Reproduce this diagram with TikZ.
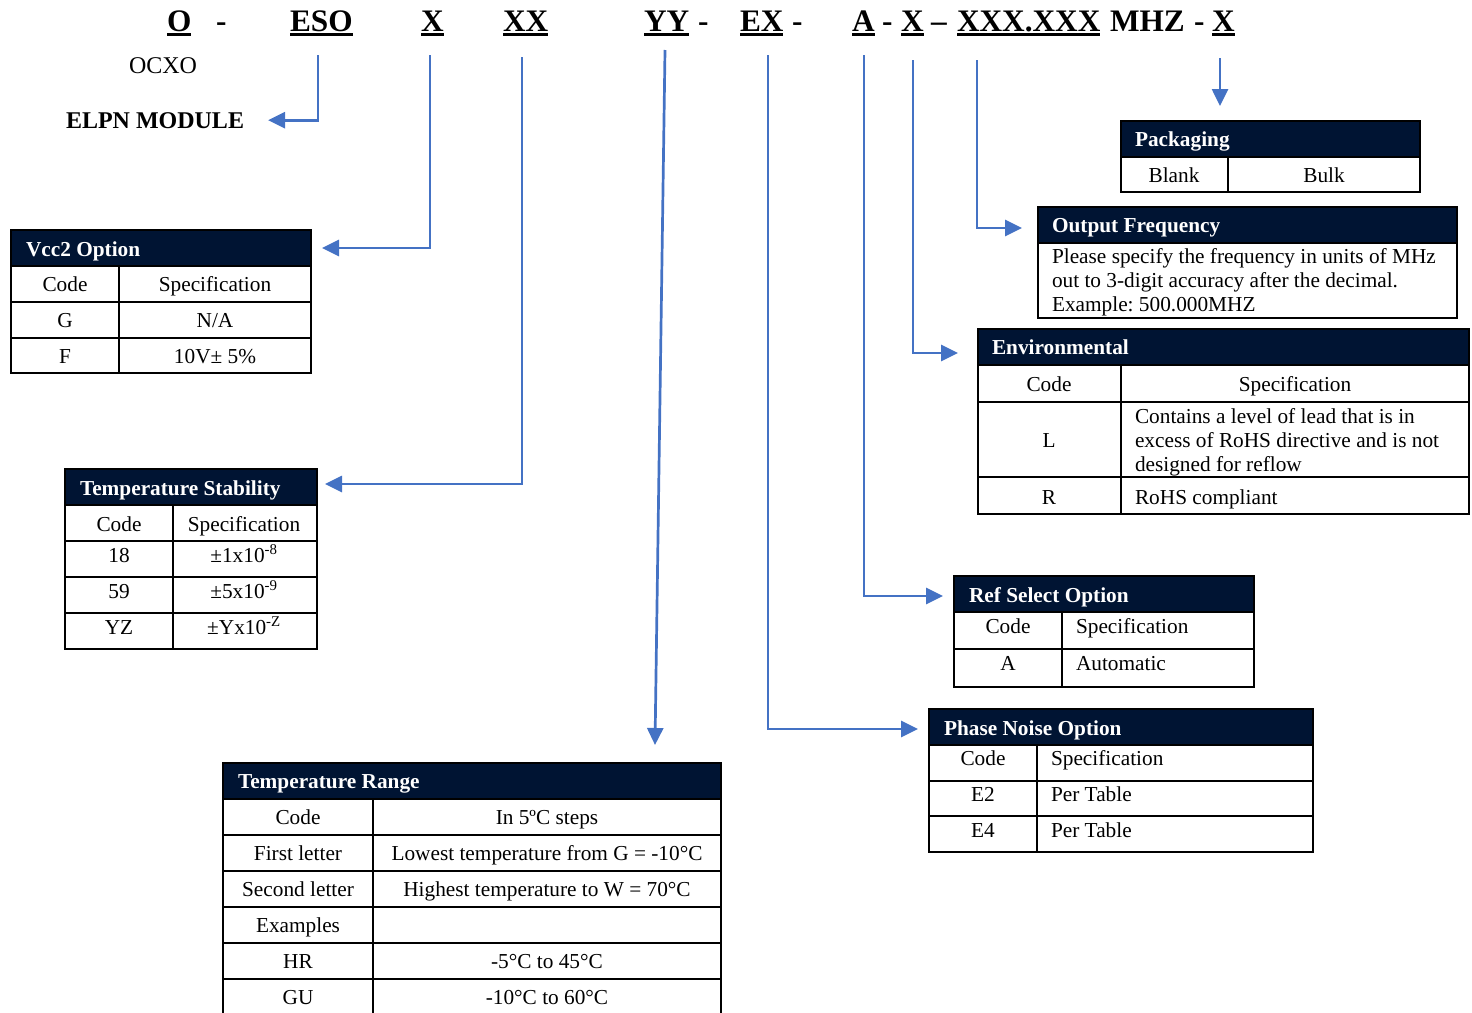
\documentclass[tikz,border=0pt]{standalone}
\usepackage{fontspec}
\setmainfont{Liberation Serif}
\usetikzlibrary{arrows.meta}
\definecolor{navy}{HTML}{001433}
\definecolor{conblue}{HTML}{4472C4}
\frenchspacing
\begin{document}
\begin{tikzpicture}[x=1pt,y=-1pt,
 every node/.style={inner sep=0pt, outer sep=0pt},
 body/.style={font=\fontsize{21.3}{25}\selectfont, anchor=base, text=black},
 bodyl/.style={body, anchor=base west},
 title/.style={font=\fontsize{21.3}{25}\selectfont\bfseries, text=white, anchor=base west},
 code/.style={font=\fontsize{31.3}{36}\selectfont\bfseries, anchor=base west},
 hdr/.style={draw=black, fill=navy, line width=2pt, anchor=north west, minimum height=36pt},
 grid/.style={draw=black, line width=2pt},
 conn/.style={draw=conblue, line width=2.7pt, -{Triangle[length=17pt,width=16pt]}},
 uline/.style={line width=3pt},
]
\useasboundingbox (0,0) rectangle (1472,1012);

% ---------- top code line ----------
\node[code] (pO)   at (167,31) {O};
\node[code] (d1)   at (216,31) {-};
\node[code] (pESO) at (290,31) {ESO};
\node[code] (pX1)  at (421,31) {X};
\node[code] (pXX)  at (503,31) {XX};
\node[code] (pYY)  at (644,31) {YY};
\node[code] (d2)   at (698,31) {-};
\node[code] (pEX)  at (740,31) {EX};
\node[code] (d3)   at (792,31) {-};
\node[code] (pA)   at (852,31) {A};
\node[code] (d4)   at (882,31) {-};
\node[code] (pX2)  at (901,31) {X};
\node[code] (d5)   at (931,31) {–};
\node[code] (pF)   at (957,31) {XXX.XXX};
\node[code] (pM)   at (1110,31) {MHZ};
\node[code] (d6)   at (1194,31) {-};
\node[code] (pX3)  at (1212,31) {X};
\foreach \n in {pO,pESO,pX1,pXX,pYY,pEX,pA,pX2,pF,pX3}
  \draw[uline] ([yshift=-3.5pt]\n.base west) -- ([yshift=-3.5pt]\n.base east);

\node[font=\fontsize{24}{28}\selectfont, anchor=base west] (ocxo) at (129,73) {OCXO};
\node[font=\fontsize{24}{28}\selectfont\bfseries, anchor=base west] (elpn) at (66,128) {ELPN MODULE};

% ---------- Vcc2 Option ----------
\node[hdr, minimum width=300pt] (vcc) at (11,230) {};
\node[title] (vcct) at (26,256) {Vcc2 Option};
\draw[grid] (11,266) rectangle (311,373) (11,302) -- (311,302) (11,338) -- (311,338) (119,266) -- (119,373);
\node[body] (v1) at (65,291) {Code};
\node[body] (v2) at (215,291) {Specification};
\node[body] (v3) at (65,327) {G};
\node[body] (v4) at (215,327) {N/A};
\node[body] (v5) at (65,363) {F};
\node[body] (v6) at (215,363) {10V± 5\%};

% ---------- Temperature Stability ----------
\node[hdr, minimum width=252pt] (tstab) at (65,469) {};
\node[title] (tstabt) at (80,495) {Temperature Stability};
\draw[grid] (65,505) rectangle (317,649) (65,541) -- (317,541) (65,577) -- (317,577) (65,613) -- (317,613) (173,505) -- (173,649);
\node[body] (s1c) at (119,531) {Code};
\node[body] (s1s) at (244,531) {Specification};
\node[body] (s2c) at (119,562) {18};
\node[body] (s2s) at (244,562) {±1x10\textsuperscript{-8}};
\node[body] (s3c) at (119,598) {59};
\node[body] (s3s) at (244,598) {±5x10\textsuperscript{-9}};
\node[body] (s4c) at (119,634) {YZ};
\node[body] (s4s) at (244,634) {±Yx10\textsuperscript{-Z}};

% ---------- Packaging ----------
\node[hdr, minimum width=299pt] (pack) at (1121,121) {};
\node[title] (packt) at (1135,146) {Packaging};
\draw[grid] (1121,157) rectangle (1420,192) (1228,157) -- (1228,192);
\node[body] (pk1) at (1174,182) {Blank};
\node[body] (pk2) at (1324,182) {Bulk};

% ---------- Output Frequency ----------
\node[hdr, minimum width=419pt] (ofreq) at (1038,207) {};
\node[title] (ofreqt) at (1052,232) {Output Frequency};
\draw[grid] (1038,243) rectangle (1457,318);
\node[bodyl] (of1) at (1052,263) {Please specify the frequency in units of MHz};
\node[bodyl] (of2) at (1052,287) {out to 3-digit accuracy after the decimal.};
\node[bodyl] (of3) at (1052,311) {Example: 500.000MHZ};

% ---------- Environmental ----------
\node[hdr, minimum width=491pt] (env) at (978,329) {};
\node[title] (envt) at (992,354) {Environmental};
\draw[grid] (978,365) rectangle (1469,514) (978,402) -- (1469,402) (978,477) -- (1469,477) (1121,365) -- (1121,514);
\node[body] (e1c) at (1049,391) {Code};
\node[body] (e1s) at (1295,391) {Specification};
\node[body] (e2c) at (1049,447) {L};
\node[bodyl] (e2a) at (1135,423) {Contains a level of lead that is in};
\node[bodyl] (e2b) at (1135,447) {excess of RoHS directive and is not};
\node[bodyl] (e2d) at (1135,471) {designed for reflow};
\node[body] (e3c) at (1049,504) {R};
\node[bodyl] (e3s) at (1135,504) {RoHS compliant};

% ---------- Ref Select Option ----------
\node[hdr, minimum width=300pt] (rs) at (954,576) {};
\node[title] (rst) at (969,602) {Ref Select Option};
\draw[grid] (954,612) rectangle (1254,687) (954,649) -- (1254,649) (1062,612) -- (1062,687);
\node[body] (r1c) at (1008,633) {Code};
\node[bodyl] (r1s) at (1076,633) {Specification};
\node[body] (r2c) at (1008,670) {A};
\node[bodyl] (r2s) at (1076,670) {Automatic};

% ---------- Phase Noise Option ----------
\node[hdr, minimum width=384pt] (pn) at (929,709) {};
\node[title] (pnt) at (944,735) {Phase Noise Option};
\draw[grid] (929,745) rectangle (1313,852) (929,781) -- (1313,781) (929,816) -- (1313,816) (1037,745) -- (1037,852);
\node[body] (n1c) at (983,765) {Code};
\node[bodyl] (n1s) at (1051,765) {Specification};
\node[body] (n2c) at (983,801) {E2};
\node[bodyl] (n2s) at (1051,801) {Per Table};
\node[body] (n3c) at (983,837) {E4};
\node[bodyl] (n3s) at (1051,837) {Per Table};

% ---------- Temperature Range ----------
\node[hdr, minimum width=498pt] (trng) at (223,763) {};
\node[title] (trngt) at (238,788) {Temperature Range};
\draw[grid] (223,1014) -- (223,799) -- (721,799) -- (721,1014)
  (223,835) -- (721,835) (223,871) -- (721,871) (223,907) -- (721,907)
  (223,943) -- (721,943) (223,979) -- (721,979) (373,799) -- (373,1014);
\node[body] (t1c) at (298,824) {Code};
\node[body] (t1s) at (547,824) {In 5ºC steps};
\node[body] (t2c) at (298,860) {First letter};
\node[body] (t2s) at (547,860) {Lowest temperature from G = -10°C};
\node[body] (t3c) at (298,896) {Second letter};
\node[body] (t3s) at (547,896) {Highest temperature to W = 70°C};
\node[body] (t4c) at (298,932) {Examples};
\node[body] (t5c) at (298,968) {HR};
\node[body] (t5s) at (547,968) {-5°C to 45°C};
\node[body] (t6c) at (298,1004) {GU};
\node[body] (t6s) at (547,1004) {-10°C to 60°C};

% ---------- connectors ----------
\coordinate (a1) at (318,55);
\coordinate (a2) at (430,55);
\coordinate (a3) at (522,57);
\coordinate (a4) at (665,50);
\coordinate (e4) at (655,745);
\coordinate (a5) at (768,55);
\coordinate (a6) at (864,55);
\coordinate (a7) at (913,60);
\coordinate (a8) at (977,60);
\coordinate (a9) at (1220,58);
\coordinate (e9) at (1220,106);
\draw[conn] (a1) |- ([xshift=24pt]elpn.east);
\draw[conn] (a2) |- ([xshift=11pt]vcc.east);
\draw[conn] (a3) |- ([xshift=8pt,yshift=3pt]tstab.east);
\draw[conn] (a4) -- (e4);
\draw[conn] (a5) |- ([xshift=-11pt,yshift=-2pt]pn.west);
\draw[conn] (a6) |- ([xshift=-11pt,yshift=-2pt]rs.west);
\draw[conn] (a7) |- ([xshift=-20pt,yshift=-6pt]env.west);
\draw[conn] (a8) |- ([xshift=-16pt,yshift=-3pt]ofreq.west);
\draw[conn] (a9) -- (e9);
\end{tikzpicture}
\end{document}
